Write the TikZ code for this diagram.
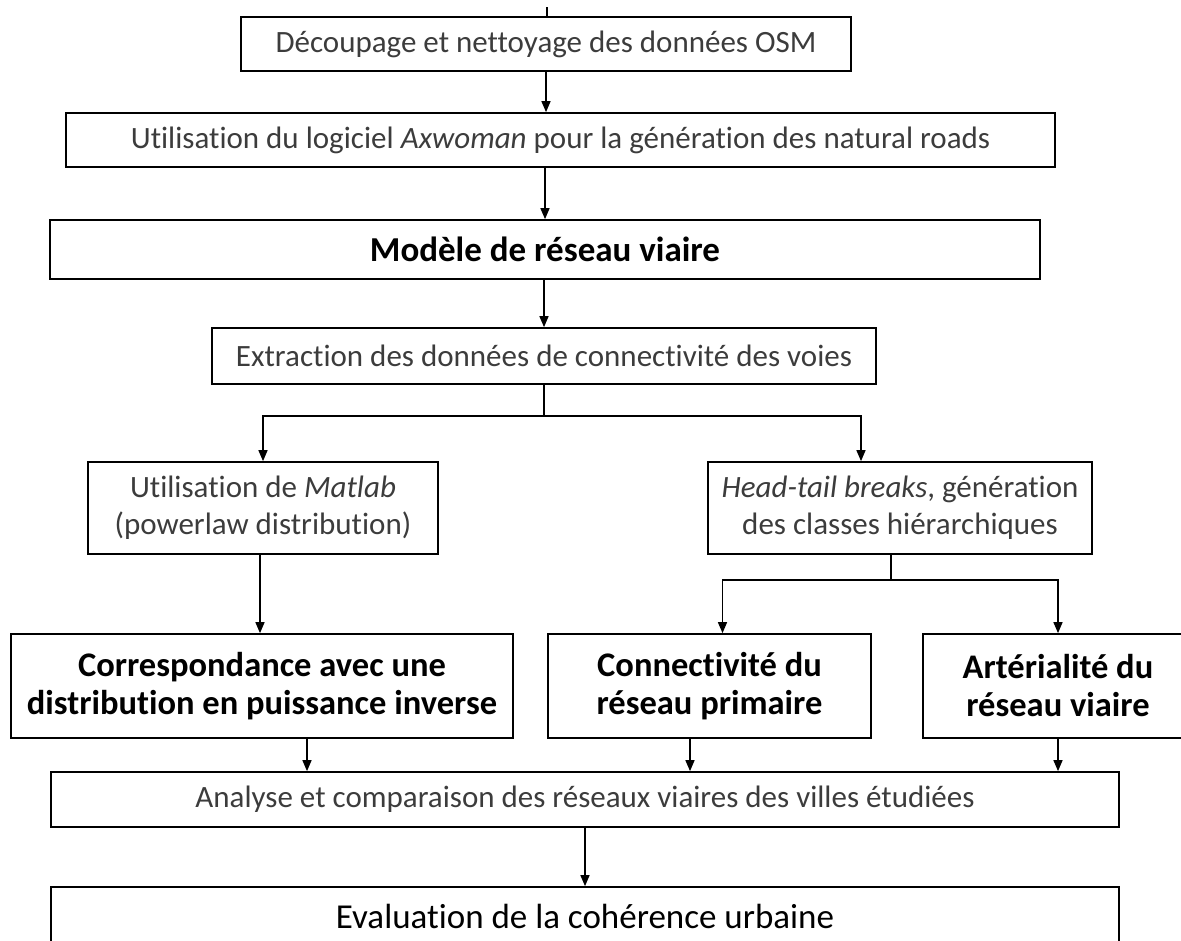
\documentclass[tikz,border=0pt]{standalone}
\usepackage{fontspec}
\setmainfont[Ligatures={NoCommon}]{Carlito}
\usetikzlibrary{arrows.meta,calc}
\definecolor{txt}{HTML}{3C3C3C}
\begin{document}
\begin{tikzpicture}[x=1pt,y=-1pt,
  box/.style={draw=black, line width=1.7pt, inner sep=0pt, align=center,
    text=txt, font=\fontsize{31}{37}\selectfont},
  bigbox/.style={box, text=black, font=\fontsize{34.5}{38}\bfseries\selectfont},
  arr/.style={line width=1.4pt, -{Triangle[length=11pt,width=9pt]}},
  link/.style={line width=1.4pt}]
\useasboundingbox (0,0) rectangle (1181,940);
\clip (0,0) rectangle (1181,940);

% processing chain
\node[box, minimum width=610pt, minimum height=54pt] (b1) at (546,44)
  {Découpage et nettoyage des données OSM};
\node[box, minimum width=989pt, minimum height=54pt] (b2) at (560.5,140)
  {Utilisation du logiciel \textit{Axwoman} pour la génération des natural roads};
\node[bigbox, font=\fontsize{35}{38}\bfseries\selectfont,
  minimum width=990pt, minimum height=59pt] (b3) at (545,249.5)
  {Modèle de réseau viaire};
\node[box, minimum width=664pt, minimum height=56pt] (b4) at (544,356)
  {Extraction des données de connectivité des voies};

% two analysis branches
\node[box, minimum width=350pt, minimum height=92pt] (b5) at (263,508)
  {Utilisation de \textit{Matlab}\\(powerlaw distribution)};
\node[box, minimum width=384pt, minimum height=92pt] (b6) at (900,508)
  {\textit{Head-tail breaks}, génération\\des classes hiérarchiques};

% results
\node[bigbox, minimum width=502pt, minimum height=104pt] (b7) at (262,686)
  {Correspondance avec une\\distribution en puissance inverse};
\node[bigbox, minimum width=323pt, minimum height=104pt] (b8) at (709.5,686)
  {Connectivité du\\réseau primaire};
\node[bigbox, minimum width=270pt, minimum height=104pt] (b9) at (1058,686)
  {Artérialité du\\réseau viaire};

% synthesis
\node[box, minimum width=1068pt, minimum height=55pt] (b10) at (585,799.5)
  {Analyse et comparaison des réseaux viaires des villes étudiées};
\node[box, text=black, font=\fontsize{35}{38}\selectfont,
  minimum width=1068pt, minimum height=58pt] (b11) at (585,916)
  {Evaluation de la cohérence urbaine};

% connectors
\coordinate (top) at (547,7);
\draw[link] (top) -- (top |- b1.north);
\draw[arr] (b1.south) -- (b1.south |- b2.north);
\draw[arr] (b3.north |- b2.south) -- (b3.north);
\draw[arr] (b4.north |- b3.south) -- (b4.north);

\coordinate (j1) at (544,416);
\draw[link] (b4.south) -- (j1);
\draw[arr] (j1) -| (b5.north);
\draw[arr] (j1) -| ([xshift=-39pt]b6.north);

\draw[arr] ([xshift=-3pt]b5.south) -- ([xshift=-3pt]b5.south |- b7.north);

\coordinate (j2) at (891,580);
\draw[link] (j2 |- b6.south) -- (j2);
\draw[arr] (j2) -| ([xshift=13pt]b8.north);
\draw[arr] (j2) -| (b9.north);

\coordinate (o7) at ([xshift=45pt]b7.south);
\coordinate (o8) at ([xshift=-19.5pt]b8.south);
\draw[arr] (o7) -- (o7 |- b10.north);
\draw[arr] (o8) -- (o8 |- b10.north);
\draw[arr] (b9.south) -- (b9.south |- b10.north);
\draw[arr] (b10.south) -- (b11.north);
\end{tikzpicture}
\end{document}
